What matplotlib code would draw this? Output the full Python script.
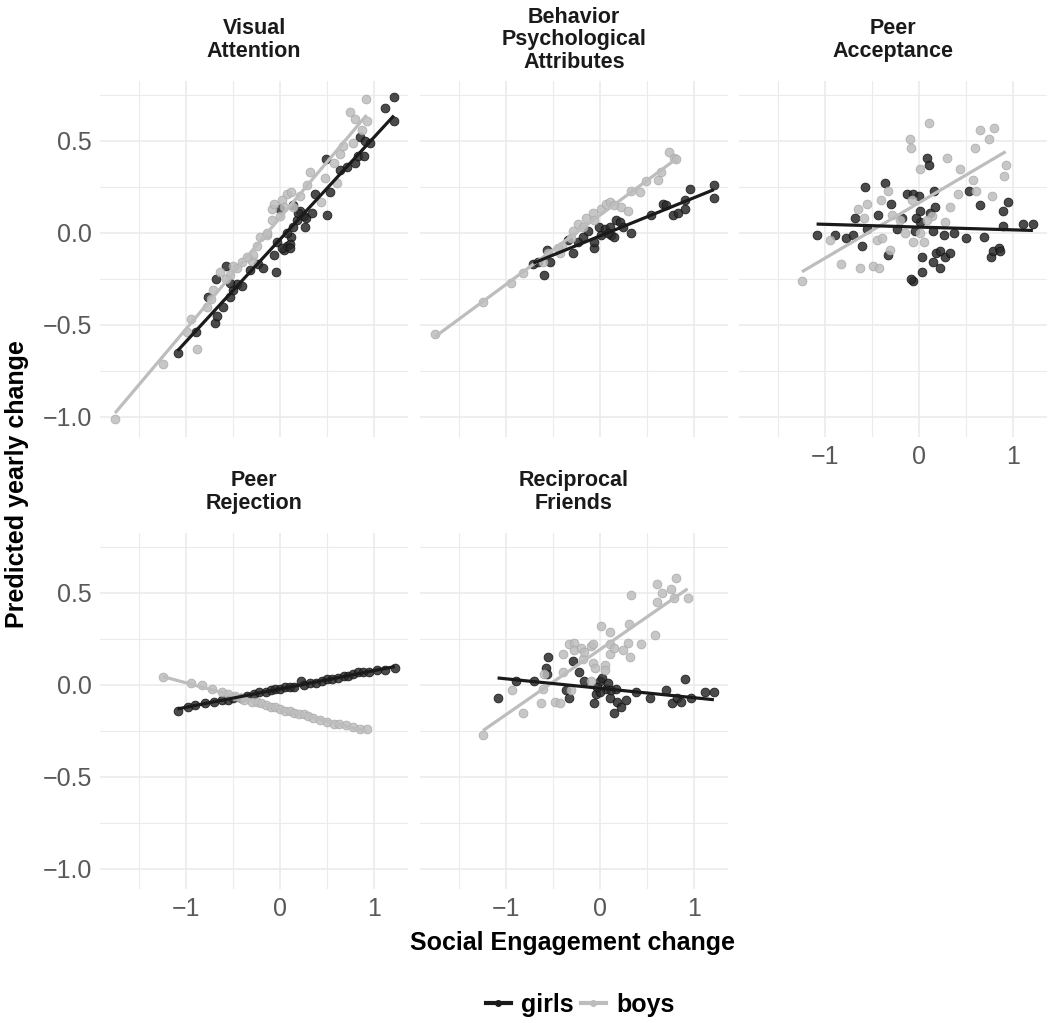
import numpy as np
import matplotlib
matplotlib.use("Agg")
from matplotlib import pyplot as plt
from matplotlib.lines import Line2D

plt.rcParams['font.family'] = ['Liberation Sans', 'DejaVu Sans']

# --- data ---
panel_titles = ['Visual\nAttention', 'Behavior\nPsychological\nAttributes', 'Peer\nAcceptance',
                'Peer\nRejection', 'Reciprocal\nFriends']
group_names = ['girls', 'boys']

# Visual Attention
va_girls_x = [-1.09, -0.89, -0.77, -0.68, -0.57, -0.69, -0.67, -0.61, -0.53, -0.50, -0.46, -0.41, -0.53,
              -0.32, -0.23, -0.18, -0.07, -0.04, 0.00, 0.04, 0.07, 0.12, 0.10, 0.07, 0.14, 0.18, 0.21, 0.25,
              0.27, 0.28, 0.34, 0.37, 0.50, 0.53, 0.49, 0.64, 0.71, 0.80, 0.83, 0.89, 0.85, 0.90, 0.96,
              1.12, 1.21, 1.21, -0.03, 0.02, 0.10, 0.19, 0.14]
va_girls_y = [-0.65, -0.54, -0.35, -0.25, -0.18, -0.49, -0.45, -0.40, -0.35, -0.31, -0.28, -0.29, -0.27,
              -0.20, -0.17, -0.19, -0.12, -0.21, 0.13, -0.09, -0.07, -0.02, -0.06, 0.00, 0.03, 0.07, 0.12, 0.09,
              0.03, 0.08, 0.11, 0.21, 0.10, 0.22, 0.40, 0.34, 0.36, 0.38, 0.42, 0.42, 0.52, 0.50, 0.49,
              0.68, 0.74, 0.61, -0.05, -0.08, -0.08, 0.11, 0.15]
va_boys_x = [-1.755, -1.24, -0.95, -0.88, -0.99, -0.78, -0.64, -0.53, -0.46, -0.41, -0.30, -0.29, -0.21,
             -0.14, -0.09, -0.09, -0.07, 0.07, 0.12, 0.02, 0.00, 0.14, 0.21, 0.32, 0.29, 0.43, 0.48, 0.60,
             0.57, 0.64, 0.67, 0.74, 0.80, 0.78, 0.91, 0.92, 0.87, 0.04, -0.14, -0.25, -0.35, -0.50, -0.57,
             -0.71, -0.74]
va_boys_y = [-1.01, -0.71, -0.47, -0.63, -0.54, -0.40, -0.21, -0.23, -0.19, -0.16, -0.15, -0.12, -0.02,
             -0.01, 0.07, 0.13, 0.16, 0.21, 0.22, 0.18, 0.09, 0.14, 0.20, 0.33, 0.26, 0.17, 0.30, 0.27,
             0.38, 0.43, 0.47, 0.66, 0.62, 0.49, 0.73, 0.61, 0.56, 0.14, 0.00, -0.07, -0.13, -0.18, -0.25,
             -0.31, -0.36]

# Behavior Psychological Attributes
bp_girls_x = [-0.60, -0.71, -0.66, -0.53, -0.56, -0.29, -0.34, -0.24, -0.18, -0.07, -0.06, 0.01, -0.01,
              0.05, 0.10, 0.12, 0.15, 0.17, 0.21, 0.24, 0.33, 0.54, 0.67, 0.70, 0.77, 0.83, 0.90, 0.90,
              0.96, 1.21, 1.21, -0.13, 0.08]
bp_girls_y = [-0.23, -0.17, -0.16, -0.16, -0.09, -0.11, -0.04, -0.05, -0.02, -0.08, -0.05, -0.01, 0.03,
              0.02, 0.03, -0.01, -0.02, 0.07, 0.06, 0.03, 0.00, 0.10, 0.16, 0.15, 0.10, 0.11, 0.13, 0.18,
              0.24, 0.26, 0.19, 0.01, 0.00]
bp_boys_x = [-1.755, -1.245, -0.95, -0.82, -0.61, -0.55, -0.43, -0.41, -0.31, -0.29, -0.24, -0.18, -0.15,
             -0.08, -0.06, 0.01, 0.06, 0.10, 0.15, 0.22, 0.30, 0.33, 0.42, 0.49, 0.62, 0.65, 0.73, 0.79,
             0.81, -0.45]
bp_boys_y = [-0.55, -0.375, -0.27, -0.22, -0.16, -0.11, -0.11, -0.07, -0.03, 0.01, 0.05, 0.03, 0.08,
             0.11, 0.07, 0.13, 0.16, 0.17, 0.15, 0.14, 0.12, 0.23, 0.22, 0.28, 0.29, 0.33, 0.44, 0.41,
             0.40, -0.08]

# Peer Acceptance
pa_girls_x = [-1.09, -0.89, -0.78, -0.70, -0.68, -0.57, -0.55, -0.61, -0.44, -0.36, -0.30, -0.33, -0.24,
              -0.18, -0.13, -0.07, 0.00, -0.07, -0.09, -0.04, 0.01, 0.01, 0.03, 0.03, 0.08, 0.10, 0.12,
              0.15, 0.16, 0.17, 0.15, 0.18, 0.22, 0.22, 0.26, 0.28, 0.33, 0.37, 0.50, 0.53, 0.65, 0.69,
              0.76, 0.79, 0.85, 0.86, 0.89, 0.89, 0.95, 1.11, 1.21, -0.03]
pa_girls_y = [-0.01, -0.01, -0.03, -0.01, 0.08, 0.25, 0.02, -0.07, 0.10, 0.27, 0.16, -0.12, 0.02,
              0.08, 0.21, 0.21, 0.20, -0.26, -0.25, 0.01, 0.06, 0.12, -0.21, -0.13, 0.41, 0.37, 0.11,
              0.01, 0.23, 0.14, -0.16, -0.11, -0.19, -0.10, -0.01, -0.13, -0.11, 0.00, -0.03, 0.23, 0.15,
              -0.02, -0.13, -0.10, -0.08, -0.10, 0.12, 0.04, 0.17, 0.05, 0.05, 0.08]
pa_boys_x = [-1.245, -0.95, -0.83, -0.63, -0.65, -0.55, -0.59, -0.49, -0.43, -0.45, -0.39, -0.41, -0.33,
             -0.31, -0.29, -0.20, -0.15, -0.10, -0.09, -0.08, -0.06, 0.01, 0.05, 0.10, 0.14, 0.28, 0.30,
             0.33, 0.41, 0.44, 0.57, 0.59, 0.61, 0.65, 0.74, 0.77, 0.80, 0.90, 0.92, 0.08, 0.01]
pa_boys_y = [-0.26, -0.04, -0.17, -0.19, 0.13, 0.16, 0.08, -0.18, -0.19, -0.04, -0.03, 0.18, 0.23,
             -0.09, 0.10, 0.07, 0.00, 0.51, 0.46, 0.18, -0.05, 0.35, -0.05, 0.60, 0.09, 0.06, 0.41,
             0.14, 0.21, 0.35, 0.29, 0.46, 0.23, 0.56, 0.51, 0.20, 0.57, 0.31, 0.37, 0.07, 0.00]

# Peer Rejection
pr_girls_x = [-1.09, -0.98, -0.90, -0.80, -0.70, -0.62, -0.55, -0.50, -0.42, -0.35, -0.28, -0.22, -0.15,
              -0.10, -0.05, 0.00, 0.05, 0.10, 0.15, 0.22, 0.25, 0.32, 0.38, 0.45, 0.50, 0.55, 0.62, 0.68,
              0.72, 0.78, 0.83, 0.88, 0.95, 1.03, 1.12, 1.22]
pr_girls_y = [-0.14, -0.12, -0.11, -0.10, -0.09, -0.08, -0.08, -0.07, -0.07, -0.06, -0.05, -0.04, -0.04,
              -0.03, -0.02, -0.02, -0.01, -0.01, -0.01, 0.02, 0.00, 0.01, 0.01, 0.02, 0.03, 0.03, 0.04,
              0.05, 0.05, 0.06, 0.07, 0.07, 0.07, 0.08, 0.08, 0.09]
pr_boys_x = [-1.245, -0.95, -0.83, -0.72, -0.62, -0.55, -0.48, -0.42, -0.38, -0.30, -0.25, -0.20, -0.15,
             -0.10, -0.05, 0.00, 0.05, 0.10, 0.15, 0.20, 0.25, 0.30, 0.35, 0.42, 0.50, 0.57, 0.63, 0.70,
             0.78, 0.85, 0.92]
pr_boys_y = [0.045, 0.01, 0.00, -0.02, -0.04, -0.05, -0.06, -0.07, -0.08, -0.09, -0.09, -0.10, -0.11,
             -0.12, -0.12, -0.13, -0.14, -0.14, -0.15, -0.16, -0.16, -0.17, -0.18, -0.19, -0.20, -0.21,
             -0.21, -0.22, -0.23, -0.24, -0.24]

# Reciprocal Friends
rf_girls_x = [-1.09, -0.89, -0.70, -0.57, -0.55, -0.56, -0.36, -0.33, -0.29, -0.22, -0.17, -0.07, -0.04,
              0.00, 0.02, 0.06, 0.08, 0.10, 0.12, 0.17, 0.15, 0.18, 0.22, 0.28, 0.38, 0.53, 0.70, 0.76,
              0.82, 0.86, 0.90, 0.97, 1.12, 1.21, 0.00, -0.03]
rf_girls_y = [-0.07, 0.02, 0.02, 0.09, 0.15, 0.06, -0.03, -0.07, 0.13, 0.07, 0.02, -0.10, -0.05,
              0.02, 0.04, -0.02, 0.01, -0.07, -0.03, -0.02, -0.15, -0.09, -0.12, -0.08, -0.04, -0.07,
              -0.03, -0.10, -0.07, -0.09, 0.03, -0.07, -0.04, -0.04, -0.04, -0.01]
rf_boys_x = [-1.245, -0.94, -0.82, -0.63, -0.61, -0.60, -0.48, -0.43, -0.39, -0.39, -0.33, -0.28, -0.28,
             -0.20, -0.18, -0.17, -0.31, -0.10, -0.08, -0.08, -0.05, -0.10, 0.01, 0.05, 0.05, 0.10, 0.10,
             0.11, 0.15, 0.24, 0.30, 0.31, 0.32, 0.33, 0.43, 0.58, 0.60, 0.61, 0.66, 0.75, 0.79, 0.81, 0.93]
rf_boys_y = [-0.27, -0.03, -0.15, -0.10, -0.02, 0.06, -0.09, -0.10, 0.17, 0.07, 0.22, 0.23, 0.19,
             0.20, 0.14, 0.18, -0.03, 0.21, 0.22, 0.12, 0.09, 0.02, 0.32, 0.11, 0.08, 0.22, 0.17,
             0.29, 0.20, 0.19, 0.23, 0.33, 0.15, 0.49, 0.22, 0.27, 0.55, 0.45, 0.50, 0.52, 0.47, 0.58, 0.47]

girls_x = [va_girls_x, bp_girls_x, pa_girls_x, pr_girls_x, rf_girls_x]
girls_y = [va_girls_y, bp_girls_y, pa_girls_y, pr_girls_y, rf_girls_y]
boys_x = [va_boys_x, bp_boys_x, pa_boys_x, pr_boys_x, rf_boys_x]
boys_y = [va_boys_y, bp_boys_y, pa_boys_y, pr_boys_y, rf_boys_y]

girls_col = '#2b2b2b'
boys_col = '#bdbdbd'
grid_col = '#ebebeb'
tick_col = '#595959'

W, H = 1049, 1023
fig = plt.figure(figsize=(W / 100, H / 100), dpi=100)

# panel boxes in pixels (left, top), same size
lefts = [100, 420, 739]
tops = [81, 533]
pw, ph = 308, 356

xlim = (-1.915, 1.36)
ylim = (-1.109, 0.826)

for i in range(5):
    r, c = divmod(i, 3)
    ax = fig.add_axes([lefts[c] / W, 1 - (tops[r] + ph) / H, pw / W, ph / H])
    ax.set_xlim(xlim)
    ax.set_ylim(ylim)
    for s in ax.spines.values():
        s.set_visible(False)

    ax.set_xticks([-1, 0, 1])
    ax.set_xticks([-1.5, -0.5, 0.5], minor=True)
    ax.set_yticks([-1.0, -0.5, 0.0, 0.5])
    ax.set_yticks([-0.75, -0.25, 0.25, 0.75], minor=True)
    ax.grid(which='major', color=grid_col, lw=1.2, zorder=0)
    ax.grid(which='minor', color=grid_col, lw=0.8, zorder=0)
    ax.set_axisbelow(True)
    ax.tick_params(which='both', length=0, labelsize=18, labelcolor=tick_col, pad=6)
    ax.set_yticklabels(['\u22121.0', '\u22120.5', '0.0', '0.5'])
    ax.set_xticklabels(['\u22121', '0', '1'])

    # shared axes like facet_wrap: labels only on outer panels
    if c != 0:
        ax.tick_params(labelleft=False)
    if not (r == 1 or c == 2):
        ax.tick_params(labelbottom=False)

    ax.scatter(girls_x[i], girls_y[i], s=40, color=girls_col, alpha=0.85,
               edgecolors='#111111', linewidths=0.6, zorder=2)
    ax.scatter(boys_x[i], boys_y[i], s=40, color=boys_col, alpha=0.85,
               edgecolors='#a8a8a8', linewidths=0.6, zorder=2)

    # linear fit per group (like geom_smooth(method='lm'))
    for gx, gy, col in [(boys_x[i], boys_y[i], boys_col), (girls_x[i], girls_y[i], '#1a1a1a')]:
        gx = np.array(gx)
        k, b = np.polyfit(gx, np.array(gy), 1)
        xs = np.array([gx.min(), gx.max()])
        ax.plot(xs, k * xs + b, color=col, lw=2.3, zorder=3, solid_capstyle='butt')

    # strip label, centred in a fixed-height strip above the panel
    ax.text(0.5, 1 + 41 / ph, panel_titles[i], transform=ax.transAxes, ha='center', va='center',
            fontsize=15.5, fontweight='bold', color='#1a1a1a', linespacing=1.1)

fig.text(573 / W, 1 - 943 / H, 'Social Engagement change', ha='center', va='center',
         fontsize=18, fontweight='bold')
fig.text(17 / W, 1 - 484 / H, 'Predicted yearly change', ha='center', va='center',
         rotation=90, fontsize=18, fontweight='bold')

handles = [Line2D([], [], color='#1a1a1a', lw=3, marker='o', markersize=4),
           Line2D([], [], color=boys_col, lw=3, marker='o', markersize=4)]
leg = fig.legend(handles, group_names, loc='center', bbox_to_anchor=(580 / W, 1 - 1005 / H),
                 ncol=2, frameon=False, prop={'weight': 'bold', 'size': 18},
                 handlelength=1.0, handletextpad=0.4, columnspacing=0.3)

fig.savefig('out.png', dpi=100)
